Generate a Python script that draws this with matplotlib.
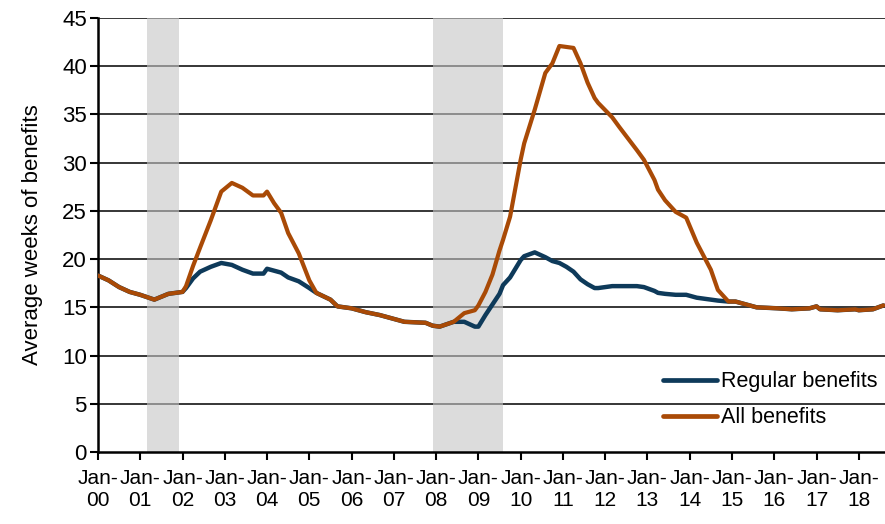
import matplotlib
matplotlib.use("Agg")
import matplotlib.pyplot as plt

plt.rcParams['font.family'] = ['Liberation Sans', 'DejaVu Sans']

# month of each reading
months = [
    "2000-01", "2000-04", "2000-07", "2000-10", "2001-01", "2001-05", "2001-09",
    "2002-01", "2002-02", "2002-04", "2002-06", "2002-09", "2002-12",
    "2003-03", "2003-06", "2003-09", "2003-12", "2004-01", "2004-03", "2004-05",
    "2004-07", "2004-10", "2005-01", "2005-03", "2005-07", "2005-09",
    "2006-01", "2006-05", "2006-09", "2006-12", "2007-04", "2007-10", "2007-12",
    "2008-02", "2008-06", "2008-09", "2008-12", "2009-01", "2009-03", "2009-05",
    "2009-07", "2009-08", "2009-10", "2010-01", "2010-02", "2010-05", "2010-08",
    "2010-10", "2010-12", "2011-02", "2011-04", "2011-06", "2011-08", "2011-10",
    "2011-11", "2012-03", "2012-05", "2012-10", "2012-12", "2013-03", "2013-04",
    "2013-06", "2013-09", "2013-12", "2014-03", "2014-07", "2014-09", "2014-12",
    "2015-02", "2015-08", "2016-02", "2016-06", "2016-11", "2017-01", "2017-02",
    "2017-07", "2017-12", "2018-01", "2018-05", "2018-08",
]

regular = [
    18.3, 17.8, 17.1, 16.6, 16.3, 15.8, 16.4,
    16.6, 17.0, 18.0, 18.7, 19.2, 19.6,
    19.4, 18.9, 18.5, 18.5, 19.0, 18.8, 18.6,
    18.1, 17.7, 17.0, 16.5, 15.8, 15.1,
    14.9, 14.5, 14.2, 13.9, 13.5, 13.4, 13.1,
    13.0, 13.5, 13.5, 13.0, 13.0, 14.2, 15.3,
    16.4, 17.3, 18.1, 19.9, 20.3, 20.7, 20.2,
    19.8, 19.6, 19.2, 18.7, 17.9, 17.4, 17.0,
    17.0, 17.2, 17.2, 17.2, 17.1, 16.7, 16.5,
    16.4, 16.3, 16.3, 16.0, 15.8, 15.7, 15.6,
    15.6, 15.0, 14.9, 14.8, 14.9, 15.1, 14.8,
    14.7, 14.8, 14.7, 14.8, 15.2,
]

all_benefits = [
    18.3, 17.8, 17.1, 16.6, 16.3, 15.8, 16.4,
    16.6, 17.2, 19.3, 21.2, 24.0, 27.0,
    27.9, 27.4, 26.6, 26.6, 27.0, 25.8, 24.8,
    22.7, 20.6, 17.8, 16.5, 15.8, 15.1,
    14.9, 14.5, 14.2, 13.9, 13.5, 13.4, 13.1,
    13.0, 13.5, 14.4, 14.7, 15.2, 16.6, 18.4,
    20.9, 22.0, 24.4, 30.3, 32.0, 35.5, 39.3,
    40.3, 42.1, 42.0, 41.9, 40.3, 38.3, 36.7,
    36.2, 34.7, 33.7, 31.3, 30.3, 28.2, 27.2,
    26.1, 24.9, 24.3, 21.7, 18.9, 16.8, 15.6,
    15.6, 15.0, 14.9, 14.8, 14.9, 15.1, 14.8,
    14.7, 14.8, 14.7, 14.8, 15.2,
]

# recessions (start, end)
recessions = [("2001-03", "2001-12"), ("2007-12", "2009-08")]

tick_years = list(range(2000, 2019))
tick_labels = ["Jan-\n%02d" % (y % 100) for y in tick_years]


def to_year(m):
    y, mo = m.split("-")
    return int(y) + (int(mo) - 1) / 12.0


x = [to_year(m) for m in months]

fig = plt.figure(figsize=(8.85, 5.24), dpi=100)
ax = fig.add_axes([0.1107, 0.1374, 0.8893, 0.8282])

for y in range(5, 50, 5):
    ax.axhline(y, color="black", lw=1.1, zorder=1)

for a, b in recessions:
    ax.axvspan(to_year(a), to_year(b), color="#C6C6C6", alpha=0.6, lw=0, zorder=2)

ax.plot(x, regular, color="#0E3A5A", lw=3.2, label="Regular benefits", zorder=3,
        solid_capstyle="round", solid_joinstyle="round")
ax.plot(x, all_benefits, color="#A94A06", lw=3.0, label="All benefits", zorder=4,
        solid_capstyle="round", solid_joinstyle="round")

ax.set_xlim(2000, 2018.62)
ax.set_ylim(0, 45)
ax.set_yticks(range(0, 50, 5))
ax.set_xticks(tick_years)
ax.set_xticklabels(tick_labels)
ax.tick_params(axis="both", labelsize=15, width=1.5, color="black")
ax.tick_params(axis="y", labelsize=16, length=6, pad=2)
ax.tick_params(axis="x", length=6, pad=6)
ax.set_ylabel("Average weeks of benefits", fontsize=16, labelpad=14)

for s in ["top", "right"]:
    ax.spines[s].set_visible(False)
ax.spines["left"].set_linewidth(1.8)
ax.spines["bottom"].set_linewidth(1.8)

leg = ax.legend(loc="center left", bbox_to_anchor=(0.718, 0.12), frameon=False,
                fontsize=15.5, handlelength=2.5, handletextpad=0.2, labelspacing=0.7,
                borderpad=0, borderaxespad=0)
for h in leg.get_lines():
    h.set_linewidth(3.4)
    h.set_solid_capstyle("round")

fig.savefig("out.png", dpi=100)
